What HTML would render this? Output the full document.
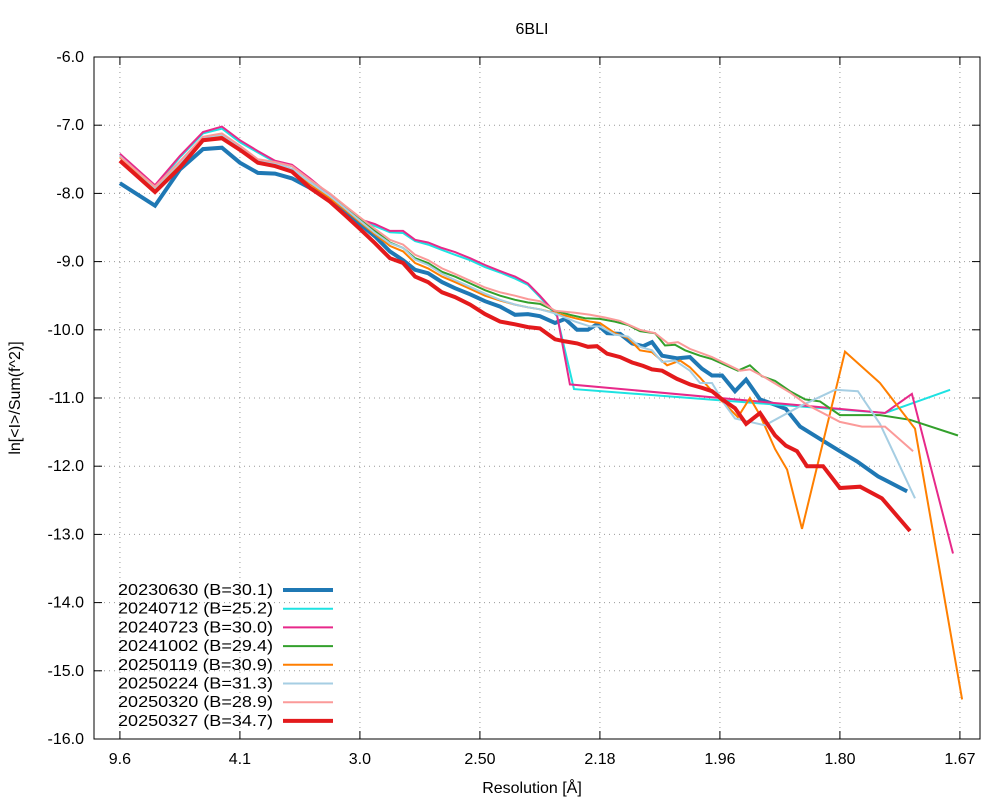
<!DOCTYPE html>
<html><head><meta charset="utf-8"><style>body{margin:0;background:#fff}svg{font-family:"Liberation Sans",sans-serif}</style></head>
<body>
<svg id="c" width="1000" height="800" xmlns="http://www.w3.org/2000/svg"></svg>
<script>
const yTicks=[-6,-7,-8,-9,-10,-11,-12,-13,-14,-15,-16];
const xTickVals=[0.0108,0.0608,0.1108,0.1608,0.2108,0.2608,0.3108,0.3608];
const xTickLabels=["9.6","4.1","3.0","2.50","2.18","1.96","1.80","1.67"];
const S0=[0.0108,0.0254,0.0358,0.0454,0.0533,0.0608,0.0683,0.0754,0.0825,0.0900,0.0983,0.1046,0.1108,0.1171,0.1233,0.1288,0.1338,0.1392,0.1450,0.1504,0.1567,0.1629,0.1692,0.1754,0.1808,0.1858];
const S1=[0.1921,0.1963,0.2013,0.2058,0.2096,0.2138,0.2192,0.2242,0.2288,0.2325,0.2367,0.2429,0.2483,0.2533,0.2575,0.2617,0.2671,0.2717,0.2775,0.2838,0.2883,0.2942,0.3025,0.3108,0.3179,0.3267,0.3388];
const names=["20230630 (B=30.1)","20240712 (B=25.2)","20240723 (B=30.0)","20241002 (B=29.4)","20250119 (B=30.9)","20250224 (B=31.3)","20250320 (B=28.9)","20250327 (B=34.7)"];
const colors=["#1f78b4","#1de2e2","#e7298a","#33a02c","#ff7f00","#a6cee3","#fb9a99","#e31a1c"];
const widths=[4,2,2,2,2,2,2,4];
const blueS=S0.concat(S1);
const blueY=[-7.85,-8.18,-7.65,-7.35,-7.33,-7.55,-7.70,-7.71,-7.78,-7.92,-8.10,-8.28,-8.45,-8.63,-8.85,-8.98,-9.12,-9.17,-9.30,-9.39,-9.48,-9.58,-9.66,-9.78,-9.77,-9.80,
-9.90,-9.84,-10.00,-10.00,-9.92,-10.05,-10.06,-10.20,-10.24,-10.18,-10.38,-10.42,-10.40,-10.57,-10.67,-10.67,-10.90,-10.73,-11.02,-11.10,-11.16,-11.42,-11.60,-11.78,-11.93,-12.15,-12.37];
const cyanS=S0.concat([0.1929,0.2,0.3296,0.3567]);
const cyanY=[-7.44,-7.9,-7.47,-7.12,-7.05,-7.25,-7.40,-7.54,-7.60,-7.80,-8.03,-8.22,-8.40,-8.48,-8.57,-8.58,-8.70,-8.75,-8.83,-8.90,-8.98,-9.08,-9.16,-9.25,-9.34,-9.52,-9.80,-10.87,-11.22,-10.88];
const magS=S0.concat([0.1929,0.1983,0.3296,0.3408,0.3579]);
const magY=[-7.42,-7.88,-7.45,-7.10,-7.02,-7.22,-7.38,-7.52,-7.58,-7.78,-8.02,-8.20,-8.38,-8.45,-8.55,-8.55,-8.68,-8.72,-8.80,-8.86,-8.95,-9.05,-9.14,-9.22,-9.32,-9.50,-9.78,-10.80,-11.22,-10.94,-13.28];
const greenS=S0.concat([0.1921,0.1983,0.2046,0.2108,0.2171,0.2225,0.2275,0.2338,0.2379,0.2421,0.2463,0.2525,0.2575,0.2683,0.2733,0.2783,0.2838,0.29,0.2963,0.3025,0.3108,0.3275,0.34,0.36]);
const greenY=[-7.47,-7.92,-7.55,-7.2,-7.15,-7.33,-7.52,-7.57,-7.65,-7.85,-8.05,-8.2,-8.38,-8.55,-8.72,-8.8,-8.95,-9.02,-9.15,-9.22,-9.32,-9.42,-9.5,-9.56,-9.6,-9.62,
-9.72,-9.78,-9.83,-9.84,-9.88,-9.93,-10.02,-10.05,-10.23,-10.22,-10.30,-10.38,-10.43,-10.60,-10.52,-10.68,-10.75,-10.90,-11.02,-11.05,-11.25,-11.25,-11.32,-11.55];
const orangeS=S0.concat([0.1921,0.2004,0.2067,0.2108,0.2171,0.2225,0.2275,0.2325,0.2388,0.2442,0.2483,0.2525,0.2575,0.2683,0.2733,0.2775,0.2838,0.2888,0.295,0.3129,0.3275,0.3421,0.3617]);
const orangeY=[-7.47,-7.93,-7.56,-7.2,-7.16,-7.34,-7.53,-7.58,-7.66,-7.86,-8.07,-8.24,-8.42,-8.6,-8.77,-8.85,-9.02,-9.1,-9.22,-9.3,-9.4,-9.5,-9.57,-9.63,-9.67,-9.7,
-9.75,-9.83,-9.88,-9.90,-10.05,-10.12,-10.30,-10.33,-10.52,-10.45,-10.55,-10.70,-10.90,-11.28,-11.0,-11.25,-11.75,-12.05,-12.92,-10.32,-10.78,-11.45,-15.42];
const lbS=S0.concat([0.1921,0.2004,0.2067,0.2108,0.2171,0.2225,0.2275,0.2325,0.2367,0.2421,0.2483,0.2525,0.2575,0.2629,0.2671,0.2796,0.2942,0.3088,0.3183,0.3275,0.3421]);
const lbY=[-7.45,-7.92,-7.55,-7.18,-7.14,-7.32,-7.52,-7.56,-7.64,-7.84,-8.04,-8.22,-8.4,-8.58,-8.73,-8.8,-8.97,-9.05,-9.18,-9.27,-9.37,-9.47,-9.56,-9.63,-9.67,-9.7,
-9.76,-9.88,-9.95,-9.95,-10.07,-10.10,-10.25,-10.30,-10.47,-10.45,-10.60,-10.78,-10.78,-11.1,-11.30,-11.40,-11.12,-10.88,-10.90,-11.38,-12.47];
const pinkS=S0.concat([0.1921,0.2004,0.2067,0.2129,0.2192,0.2275,0.2338,0.2392,0.2433,0.2483,0.2575,0.2692,0.2733,0.2796,0.29,0.2971,0.3108,0.32,0.3296,0.3413]);
const pinkY=[-7.46,-7.9,-7.53,-7.17,-7.12,-7.3,-7.5,-7.54,-7.6,-7.8,-8.0,-8.18,-8.35,-8.52,-8.68,-8.75,-8.9,-8.98,-9.1,-9.18,-9.28,-9.38,-9.45,-9.5,-9.55,-9.58,
-9.72,-9.75,-9.78,-9.82,-9.87,-10.0,-10.05,-10.20,-10.18,-10.28,-10.40,-10.60,-10.58,-10.70,-10.92,-11.10,-11.35,-11.42,-11.42,-11.78];
const redS=S0.concat([0.1921,0.1963,0.2013,0.2058,0.2096,0.2138,0.2192,0.2242,0.2288,0.2325,0.2367,0.2429,0.2483,0.2533,0.2575,0.2617,0.2671,0.2717,0.2775,0.2838,0.2883,0.2929,0.2971,0.3038,0.3108,0.3192,0.3283,0.34]);
const redY=[-7.52,-7.98,-7.62,-7.22,-7.19,-7.36,-7.55,-7.60,-7.68,-7.92,-8.12,-8.32,-8.52,-8.73,-8.95,-9.02,-9.22,-9.30,-9.45,-9.52,-9.63,-9.77,-9.88,-9.92,-9.96,-9.98,
-10.14,-10.17,-10.20,-10.25,-10.24,-10.35,-10.40,-10.48,-10.53,-10.58,-10.60,-10.72,-10.80,-10.85,-10.90,-11.02,-11.15,-11.38,-11.22,-11.55,-11.70,-11.78,-12.0,-12.0,-12.32,-12.30,-12.47,-12.95];
const seriesS=[blueS,cyanS,magS,greenS,orangeS,lbS,pinkS,redS];
const seriesY=[blueY,cyanY,magY,greenY,orangeY,lbY,pinkY,redY];

const L=94,R=980,T=57,B=739;
const xs=s=>L+s*2400;
const ys=v=>T+(-6-v)/10*(B-T);
const svg=document.getElementById('c');const NS="http://www.w3.org/2000/svg";
function mk(tag,at,parent){const e=document.createElementNS(NS,tag);for(const k in at)e.setAttribute(k,at[k]);(parent||svg).appendChild(e);return e;}
let e;
yTicks.forEach(v=>{const y=ys(v);
 if(v!==-6&&v!==-16){e=mk('line',{x1:L,x2:R,y1:y,y2:y,stroke:'#999','stroke-dasharray':'1,4'});}
 e=mk('line',{x1:L,x2:L+8,y1:y,y2:y,stroke:'#000'});
 e=mk('line',{x1:R-8,x2:R,y1:y,y2:y,stroke:'#000'});
 e=mk('text',{x:84,y:y+5,'text-anchor':'end','font-size':16});e.textContent=v.toFixed(1);});
xTickVals.forEach((s,i)=>{const x=xs(s);
 e=mk('line',{x1:x,x2:x,y1:T,y2:B,stroke:'#999','stroke-dasharray':'1,4'});
 e=mk('line',{x1:x,x2:x,y1:B-8,y2:B,stroke:'#000'});
 e=mk('line',{x1:x,x2:x,y1:T,y2:T+8,stroke:'#000'});
 e=mk('text',{x:x,y:764,'text-anchor':'middle','font-size':16});e.textContent=xTickLabels[i];});
e=mk('rect',{x:L,y:T,width:R-L,height:B-T,fill:'none',stroke:'#000'});
seriesS.forEach((S,i)=>{const Y=seriesY[i];
 const pts=S.map((s,j)=>xs(s).toFixed(1)+','+ys(Y[j]).toFixed(1)).join(' ');
 e=mk('polyline',{points:pts,fill:'none',stroke:colors[i],'stroke-width':widths[i],'stroke-linejoin':'miter'});
 
 const ly=590+i*18.7;
 e=mk('text',{x:118,y:ly+5,'font-size':16,textLength:155,lengthAdjust:'spacingAndGlyphs'});e.textContent=names[i];
 e=mk('line',{x1:283,x2:333,y1:ly,y2:ly,stroke:colors[i],'stroke-width':widths[i]});});
e=mk('text',{x:532,y:34,'text-anchor':'middle','font-size':16});e.textContent='6BLI';
e=mk('text',{x:532,y:793,'text-anchor':'middle','font-size':16});e.textContent='Resolution [Å]';
e=mk('text',{x:20,y:398,'text-anchor':'middle','font-size':16,transform:'rotate(-90 20 398)'});e.textContent='ln[<I>/Sum(f^2)]';
</script>
</body></html>
